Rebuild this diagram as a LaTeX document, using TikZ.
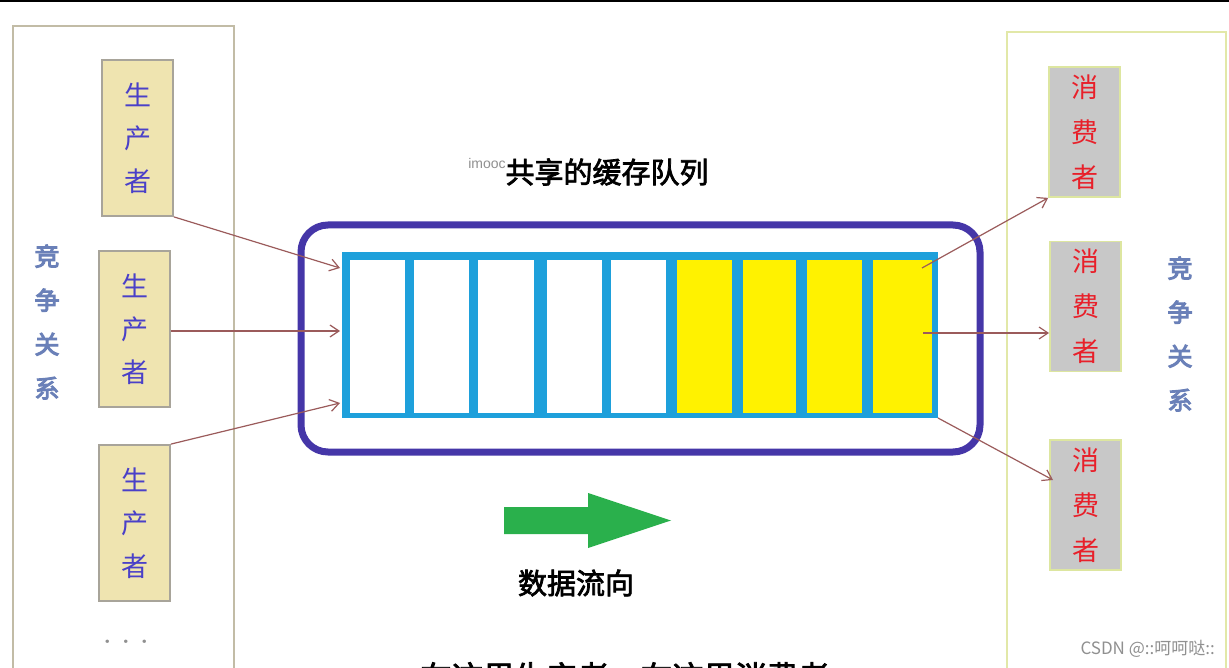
\documentclass[tikz,border=0pt]{standalone}
\usepackage{fontspec}
\newfontfamily\cjk{Noto Sans CJK SC}
\newfontfamily\cjkb[FakeBold=2.5]{Noto Sans CJK SC}
\newfontfamily\cjkbb[FakeBold=4]{Noto Sans CJK SC}
\usetikzlibrary{arrows.meta}
\definecolor{prodfill}{HTML}{EFE4B0}
\definecolor{prodline}{HTML}{A8A49A}
\definecolor{prodtext}{HTML}{4A40C8}
\definecolor{consfill}{HTML}{C8C8C8}
\definecolor{consline}{HTML}{DDE6A0}
\definecolor{constext}{HTML}{E8202A}
\definecolor{compet}{HTML}{6A80B8}
\definecolor{leftframe}{HTML}{C2BCA6}
\definecolor{rightframe}{HTML}{E2E8A8}
\definecolor{purpleframe}{HTML}{4536A8}
\definecolor{qcyan}{HTML}{1EA0DB}
\definecolor{qyellow}{HTML}{FFF200}
\definecolor{flowline}{HTML}{9B5B5B}
\definecolor{flowgreen}{HTML}{2AB04C}
\definecolor{wm}{HTML}{909090}
\tikzset{
  prod/.style={draw=prodline, line width=1.8, fill=prodfill, minimum width=71, minimum height=156, inner sep=0, text=prodtext, align=center, font=\cjk\fontsize{27}{43}\selectfont},
  cons/.style={draw=consline, line width=1.8, fill=consfill, minimum width=71, minimum height=130, inner sep=0, text=constext, align=center, font=\cjk\fontsize{27}{45}\selectfont},
  compettext/.style={text=compet, align=center, inner sep=0, font=\cjkbb\fontsize{25}{44}\selectfont},
  cell/.style={minimum height=153, inner sep=0, anchor=north west},
  flow/.style={draw=flowline, line width=1.2, -{Straight Barb[length=9,width=12,line width=1.2]}},
  bigtext/.style={inner sep=0, font=\cjkb\fontsize{29}{29}\selectfont}
}
\begin{document}
\begin{tikzpicture}[x=1pt,y=-1pt]
\useasboundingbox (0,0) rectangle (1229,668);
\fill[white] (0,0) rectangle (1229,668);
\fill[black] (0,0) rectangle (1229,2.5);
% outer frames
\draw[leftframe, line width=2] (13,26) rectangle (234,700);
\draw[rightframe, line width=2] (1007,32) rectangle (1226,700);
% producers
\node[prod] (p1) at (137.5,138) {生\\产\\者};
\node[prod] (p2) at (134.5,329) {生\\产\\者};
\node[prod] (p3) at (134.5,523) {生\\产\\者};
\node[text=wm, inner sep=0, font=\bfseries\fontsize{24}{24}\selectfont] (dots) at (126,642) {.\hspace{11pt}.\hspace{11pt}.};
\node[compettext] (lc) at (47,322) {竞\\争\\关\\系};
% consumers
\node[cons] (c1) at (1084.5,132) {消\\费\\者};
\node[cons] (c2) at (1085.5,306.5) {消\\费\\者};
\node[cons] (c3) at (1085.5,505) {消\\费\\者};
\node[compettext] (rc) at (1180,334) {竞\\争\\关\\系};
% title
\node[bigtext] (title) at (607,172) {共享的缓存队列};
\node[text=wm, inner sep=0, font=\fontspec{Liberation Sans}\fontsize{14}{14}\selectfont] (imooc) at (487,163) {imooc};
% queue frame
\node[draw=purpleframe, line width=7, rounded corners=27, minimum width=679, minimum height=227, inner sep=0] (frame) at (640.5,338.5) {};
\node[fill=qcyan, minimum width=596, minimum height=166, inner sep=0] (queue) at (640,335) {};
\foreach \x/\w [count=\i] in {350/55,414/55,478/56,547/55,611/55} {
  \node[cell, fill=white, minimum width=\w] (w\i) at (\x,260) {};
}
\foreach \x/\w [count=\i] in {677/55,743/53,807/55,873/59} {
  \node[cell, fill=qyellow, minimum width=\w] (y\i) at (\x,260) {};
}
% connectors in
\coordinate (in1) at (340,268);
\coordinate (in2) at (340,331);
\coordinate (in3) at (340,403);
\draw[flow] (p1.south east) -- (in1);
\draw[flow] (p2.east |- in2) -- (in2);
\draw[flow] (p3.north east) -- (in3);
% connectors out
\coordinate (o1) at (922,268);
\coordinate (o2) at (923,333);
\coordinate (o3) at (938,418);
\coordinate (e3) at (1053,480);
\draw[flow] (o1) -- (c1.south west);
\draw[flow] (o2) -- (c2.west |- o2);
\draw[flow] (o3) -- (e3);
% data flow arrow
\fill[flowgreen] (504,507) -- (588,507) -- (588,493) -- (671,520.5) -- (588,548) -- (588,534) -- (504,534) -- cycle;
\node[bigtext] (flowlabel) at (576,583) {数据流向};
% cut subtitle (cut off by the lower edge, as in the reference)
\node[bigtext, anchor=north west, font=\cjkb\fontsize{31.5}{31.5}\selectfont] (sub) at (420,662) {在这里生产者，在这里消费者};
% watermark
\node[text=wm, inner sep=0, anchor=east, font=\cjk\fontsize{17}{17}\selectfont] (csdn) at (1215,649) {CSDN @::呵呵哒::};
\end{tikzpicture}
\end{document}
